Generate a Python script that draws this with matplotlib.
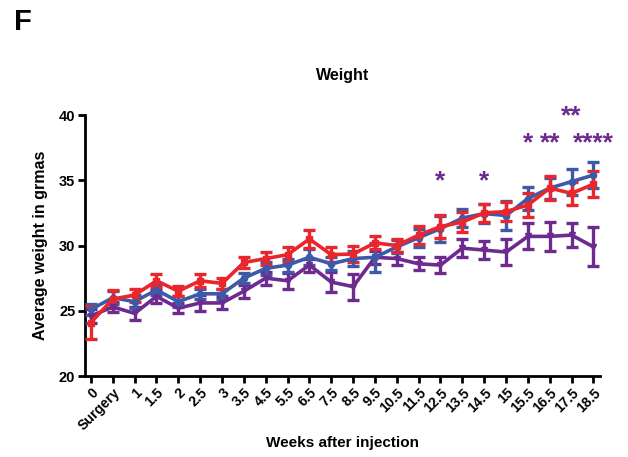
import numpy as np
import matplotlib
matplotlib.use('Agg')
import matplotlib.pyplot as plt

plt.rcParams['font.family'] = ['Liberation Sans', 'DejaVu Sans']
plt.rcParams['font.weight'] = 'bold'

# weeks after injection (categorical axis)
weeks = ['0', 'Surgery', '1', '1.5', '2', '2.5', '3', '3.5', '4.5', '5.5', '6.5',
         '7.5', '8.5', '9.5', '10.5', '11.5', '12.5', '13.5', '14.5', '15',
         '15.5', '16.5', '17.5', '18.5']

red_mean = [24.1, 25.9, 26.2, 27.3, 26.5, 27.3, 27.1, 28.7, 29.0, 29.3, 30.5,
            29.3, 29.35, 30.2, 30.0, 30.8, 31.45, 31.8, 32.5, 32.6,
            33.1, 34.4, 34.0, 34.7]
red_err = [1.3, 0.7, 0.5, 0.5, 0.4, 0.5, 0.4, 0.45, 0.5, 0.55, 0.7,
           0.6, 0.6, 0.5, 0.5, 0.7, 0.9, 0.8, 0.7, 0.7,
           0.9, 0.9, 0.9, 1.0]

blue_mean = [25.1, 26.0, 25.7, 26.6, 25.7, 26.3, 26.3, 27.5, 28.25, 28.5, 29.1,
             28.6, 29.0, 29.1, 29.9, 30.6, 31.3, 32.1, 32.45, 32.3,
             33.6, 34.4, 34.9, 35.4]
blue_err = [0.4, 0.5, 0.5, 0.4, 0.4, 0.4, 0.4, 0.4, 0.5, 0.5, 0.6,
            0.5, 0.6, 1.1, 0.5, 0.7, 1.0, 0.7, 0.7, 1.1,
            0.9, 0.8, 1.0, 1.0]

purple_mean = [24.6, 25.3, 24.8, 26.1, 25.2, 25.6, 25.6, 26.5, 27.5, 27.3, 28.5,
               27.2, 26.85, 29.1, 29.0, 28.6, 28.5, 29.8, 29.65, 29.5,
               30.7, 30.7, 30.8, 29.9]
purple_err = [0.5, 0.4, 0.5, 0.5, 0.4, 0.6, 0.5, 0.5, 0.5, 0.6, 0.5,
              0.75, 1.0, 0.5, 0.5, 0.5, 0.6, 0.7, 0.7, 1.0,
              1.0, 1.1, 0.9, 1.5]

# significance marks (purple vs others)
star_weeks = ['12.5', '14.5', '15.5', '16.5', '17.5', '18.5']
star_text = ['*', '*', '*', '**', '**', '****']
star_y = [34.9, 34.9, 37.8, 37.8, 39.9, 37.8]

RED = '#e8262b'
BLUE = '#3c5aa8'
PURPLE = '#6d2b8f'

fig = plt.figure(figsize=(6.28, 4.57), dpi=100)
ax = fig.add_axes([0.1354, 0.1772, 0.820, 0.5711])

x = np.arange(len(weeks))
for mean, err, col, mk in [(purple_mean, purple_err, PURPLE, 'v'),
                           (blue_mean, blue_err, BLUE, 'o'),
                           (red_mean, red_err, RED, 's')]:
    ax.errorbar(x, mean, yerr=err, color=col, lw=2.6, elinewidth=2.4,
                capsize=4, capthick=2.4, marker=mk, ms=4.5, zorder=3)

for w, t, yy in zip(star_weeks, star_text, star_y):
    ax.text(weeks.index(w), yy, t, color=PURPLE, fontsize=19, fontweight='bold',
            ha='center', va='center')

ax.set_xlim(-0.27, 23.3)
ax.set_ylim(20, 40)
ax.set_yticks([20, 25, 30, 35, 40])
ax.set_xticks(x)
ax.set_xticklabels(weeks, rotation=45, ha='right', rotation_mode='anchor',
                   fontsize=10, fontweight='bold')
for lab in ax.get_yticklabels():
    lab.set_fontsize(10.5)
    lab.set_fontweight('bold')

for s in ['top', 'right']:
    ax.spines[s].set_visible(False)
for s in ['left', 'bottom']:
    ax.spines[s].set_linewidth(2)
ax.tick_params(direction='out', length=5, width=2, pad=2)

ax.set_title('Weight', fontsize=11.5, fontweight='bold', pad=25)
ax.set_ylabel('Average weight in grmas', fontsize=11.5, fontweight='bold', labelpad=8)
ax.set_xlabel('Weeks after injection', fontsize=11, fontweight='bold', labelpad=2)

fig.text(0.022, 0.935, 'F', fontsize=21, fontweight='bold')

fig.savefig('out.png', dpi=100)
